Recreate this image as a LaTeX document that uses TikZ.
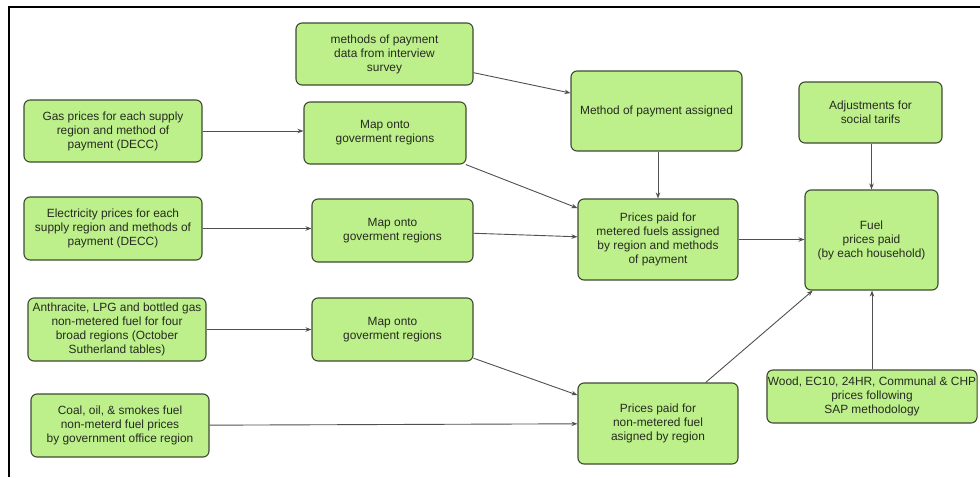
\documentclass[tikz,border=0pt]{standalone}
\usepackage{fontspec}
\setmainfont{Liberation Sans}
\usetikzlibrary{arrows.meta}
\definecolor{boxfill}{HTML}{BDEF8A}
\definecolor{boxdraw}{HTML}{3E4A32}
\definecolor{conncol}{HTML}{505050}
\definecolor{txtcol}{HTML}{262B22}
\tikzset{
  box/.style={draw=boxdraw, fill=boxfill, line width=1.1pt, rounded corners=6pt,
    align=center, inner sep=1pt, text=txtcol,
    font=\fontsize{11.9}{14}\selectfont},
  conn/.style={draw=conncol, line width=0.9pt, -{Stealth[length=6pt,width=4.5pt]}}
}
\newcommand{\bx}[6]{% name, cx, cy, w, h, text
  \node[box, minimum width=#4pt, minimum height=#5pt] (#1) at (#2,#3) {#6};}
\begin{document}
\begin{tikzpicture}[x=1pt,y=-1pt]
\useasboundingbox (0,0) rectangle (980,477);
\fill[white] (0,0) rectangle (980,477);
\draw[line width=2.6pt, black] (9,477) -- (9,7) -- (980,7);

\bx{survey}{384.5}{54}{177}{62}{methods of payment\\data from interview\\survey}
\bx{gas}{113}{131}{178}{62}{Gas prices for each supply\\region and method of\\payment (DECC)}
\bx{map1}{385}{133}{162}{62}{Map onto\\goverment regions}
\bx{elec}{113}{228.5}{178}{63}{Electricity prices for each\\supply region and methods of\\payment (DECC)}
\bx{map2}{392.5}{230.5}{161}{63}{Map onto\\goverment regions}
\bx{anth}{117}{329.5}{178}{63}{Anthracite, LPG and bottled gas\\non-metered fuel for four\\broad regions (October\\Sutherland tables)}
\bx{map3}{392.5}{329.5}{161}{63}{Map onto\\goverment regions}
\bx{coal}{120}{425.5}{178}{63}{Coal, oil, \& smokes fuel\\non-meterd fuel prices\\by government office region}
\bx{assigned}{656.5}{111}{171}{80}{Method of payment assigned}
\bx{adjust}{870.5}{112.5}{143}{61}{Adjustments for\\social tarifs}
\bx{metered}{658}{239.5}{160}{81}{Prices paid for\\metered fuels assigned\\by region and methods\\of payment}
\bx{fuel}{871.5}{240}{133}{100}{Fuel\\prices paid\\(by each household)}
\bx{nonmet}{658}{423.5}{160}{81}{Prices paid for\\non-metered fuel\\asigned by region}
\bx{wood}{872}{396.5}{210}{53}{Wood, EC10, 24HR, Communal \& CHP\\prices following\\SAP methodology}

\draw[conn] (survey) -- (assigned);
\draw[conn] (gas.east) -- (gas.east -| map1.west);
\draw[conn] (map1) -- (metered);
\draw[conn] (elec.east) -- (elec.east -| map2.west);
\draw[conn] (map2) -- (metered);
\draw[conn] (metered.north |- assigned.south) -- (metered.north);
\draw[conn] (metered.east) -- (metered.east -| fuel.west);
\draw[conn] (adjust.south -| fuel.north) -- (fuel.north);
\draw[conn] (anth.east) -- (anth.east -| map3.west);
\draw[conn] (map3) -- (nonmet);
\draw[conn] (coal) -- (nonmet);
\draw[conn] (nonmet) -- (fuel);
\draw[conn] (wood.north) -- (wood.north |- fuel.south);
\end{tikzpicture}
\end{document}
